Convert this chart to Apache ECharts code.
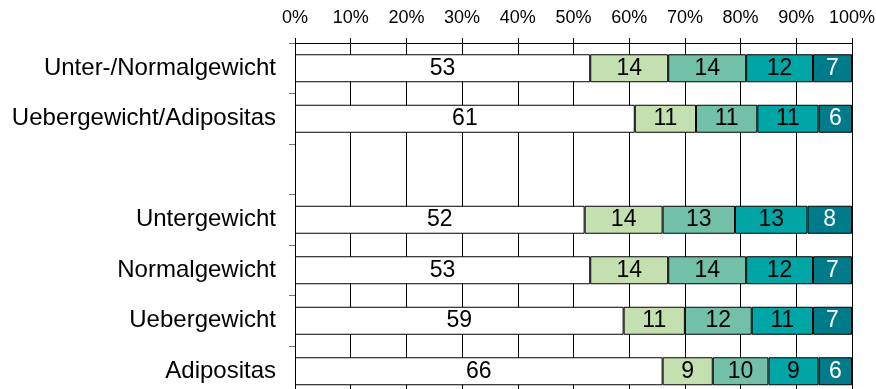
<!DOCTYPE html>
<html>
<head>
<meta charset="utf-8">
<script src="https://cdn.jsdelivr.net/npm/echarts@6/dist/echarts.min.js"></script>
<style>
  html, body { margin: 0; padding: 0; background: #fff; }
  #chart { width: 876px; height: 389px; }
</style>
</head>
<body>
<div id="chart"></div>
<script>
const categories = ['Unter-/Normalgewicht', 'Uebergewicht/Adipositas', '', 'Untergewicht', 'Normalgewicht', 'Uebergewicht', 'Adipositas'];
const seg1 = [53, 61, '-', 52, 53, 59, 66];
const seg2 = [14, 11, '-', 14, 14, 11, 9];
const seg3 = [14, 11, '-', 13, 14, 12, 10];
const seg4 = [12, 11, '-', 13, 12, 11, 9];
const seg5 = [7, 6, '-', 8, 7, 7, 6];
const colors = ['#ffffff', '#c4dfb0', '#72c0a8', '#00a6a6', '#007b8a'];
const labelColors = ['#000', '#000', '#000', '#000', '#fff'];

const chart = echarts.init(document.getElementById('chart'));

const makeSeries = (data, i) => ({
  type: 'bar',
  stack: 'total',
  data: data,
  barWidth: 28,
  itemStyle: {
    color: colors[i],
    borderColor: '#000',
    borderWidth: 1
  },
  label: {
    show: true,
    position: 'inside',
    color: labelColors[i],
    fontSize: 23,
    fontFamily: 'Liberation Sans, Arial, sans-serif'
  }
});

chart.setOption({
  animation: false,
  grid: { left: 295, right: 24, top: 43, height: 353.5, outerBoundsMode: 'none', containLabel: false },
  xAxis: {
    type: 'value',
    position: 'top',
    min: 0,
    max: 100,
    interval: 10,
    axisLine: { show: true, lineStyle: { color: '#000', width: 1 } },
    axisTick: { show: true, length: 5, lineStyle: { color: '#000' } },
    axisLabel: {
      formatter: '{value}%',
      color: '#000',
      fontSize: 18,
      margin: 16,
      fontFamily: 'Liberation Sans, Arial, sans-serif'
    },
    splitLine: { show: true, lineStyle: { color: '#000', width: 1 } }
  },
  yAxis: {
    type: 'category',
    inverse: true,
    data: categories,
    axisLine: { show: true, lineStyle: { color: '#000', width: 1 } },
    axisTick: { show: true, length: 6, lineStyle: { color: '#777' } },
    axisLabel: {
      color: '#000',
      fontSize: 24,
      margin: 19,
      fontFamily: 'Liberation Sans, Arial, sans-serif'
    }
  },
  series: [seg1, seg2, seg3, seg4, seg5].map(makeSeries)
});
</script>
</body>
</html>
